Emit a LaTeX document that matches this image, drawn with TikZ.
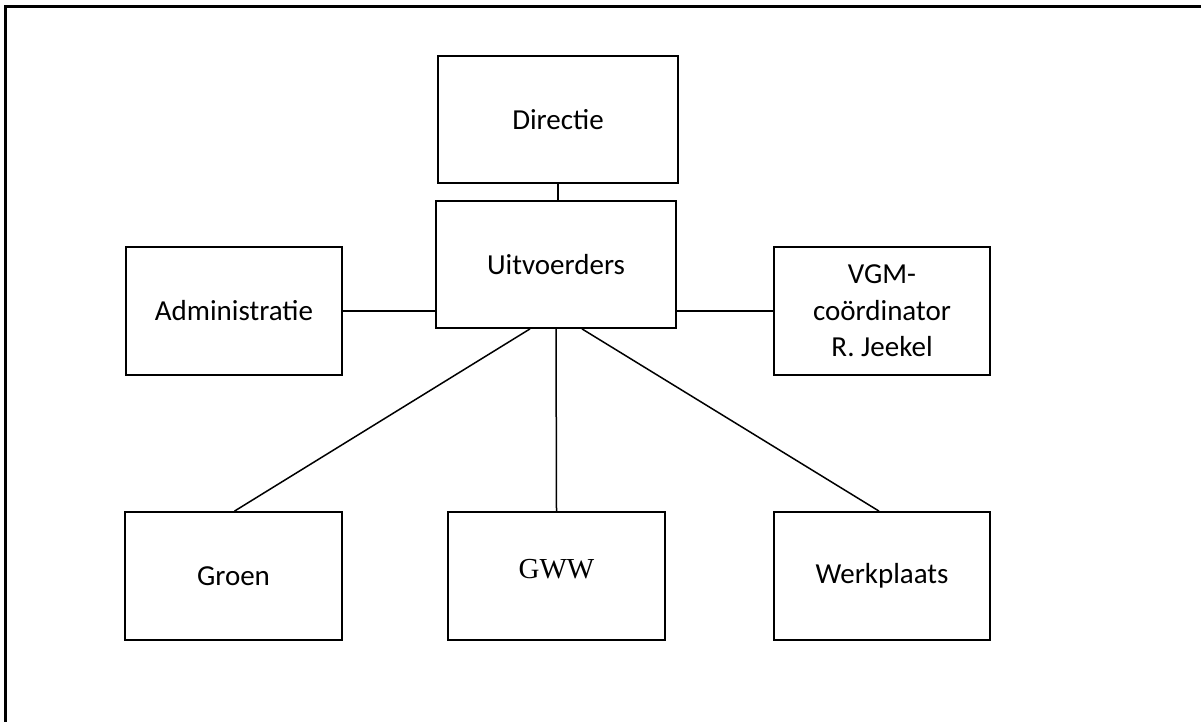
\documentclass[tikz,border=0pt]{standalone}
\usepackage{fontspec}
\setmainfont{Carlito}
\newfontfamily\gwwfont{Liberation Serif}
\usepackage{tikz}

\tikzset{
  box/.style={draw, line width=1.8pt, rectangle, align=center, inner sep=0pt,
    font=\fontsize{29}{36.5}\selectfont},
  link/.style={line width=1.5pt}
}

\begin{document}
\begin{tikzpicture}[x=1pt, y=-1pt]
\useasboundingbox (0,0) rectangle (1201,722);
\clip (0,0) rectangle (1201,722);
\draw[line width=2.5pt] (5.5,740) -- (5.5,6.5) -- (1220,6.5);

\node[box, minimum width=240pt, minimum height=127pt] (directie) at (558,119.5) {Directie};
\node[box, minimum width=240pt, minimum height=127pt] (uitvoerders) at (556,264.5) {Uitvoerders};
\node[box, minimum width=216pt, minimum height=128pt] (administratie) at (234,311) {Administratie};
\node[box, minimum width=216pt, minimum height=128pt] (vgm) at (882,311) {VGM-\\co\"ordinator\\R. Jeekel};
\node[box, minimum width=217pt, minimum height=128pt] (groen) at (233.5,576) {Groen};
\node[box, minimum width=217pt, minimum height=128pt] (gww) at (556.5,576) {\gwwfont\raisebox{14pt}{GWW}};
\node[box, minimum width=216pt, minimum height=128pt] (werkplaats) at (882,576) {Werkplaats};

\draw[link] (directie.south) -- (directie.south |- uitvoerders.north);
\draw[link] (administratie.east) -- (uitvoerders.west |- administratie.east);
\draw[link] (uitvoerders.east |- vgm.west) -- (vgm.west);
\draw[link] ([xshift=-26pt]uitvoerders.south) -- ([xshift=1pt]groen.north);
\draw[link] (uitvoerders.south) -- (gww.north);
\draw[link] ([xshift=26pt]uitvoerders.south) -- ([xshift=-3pt]werkplaats.north);
\end{tikzpicture}
\end{document}
